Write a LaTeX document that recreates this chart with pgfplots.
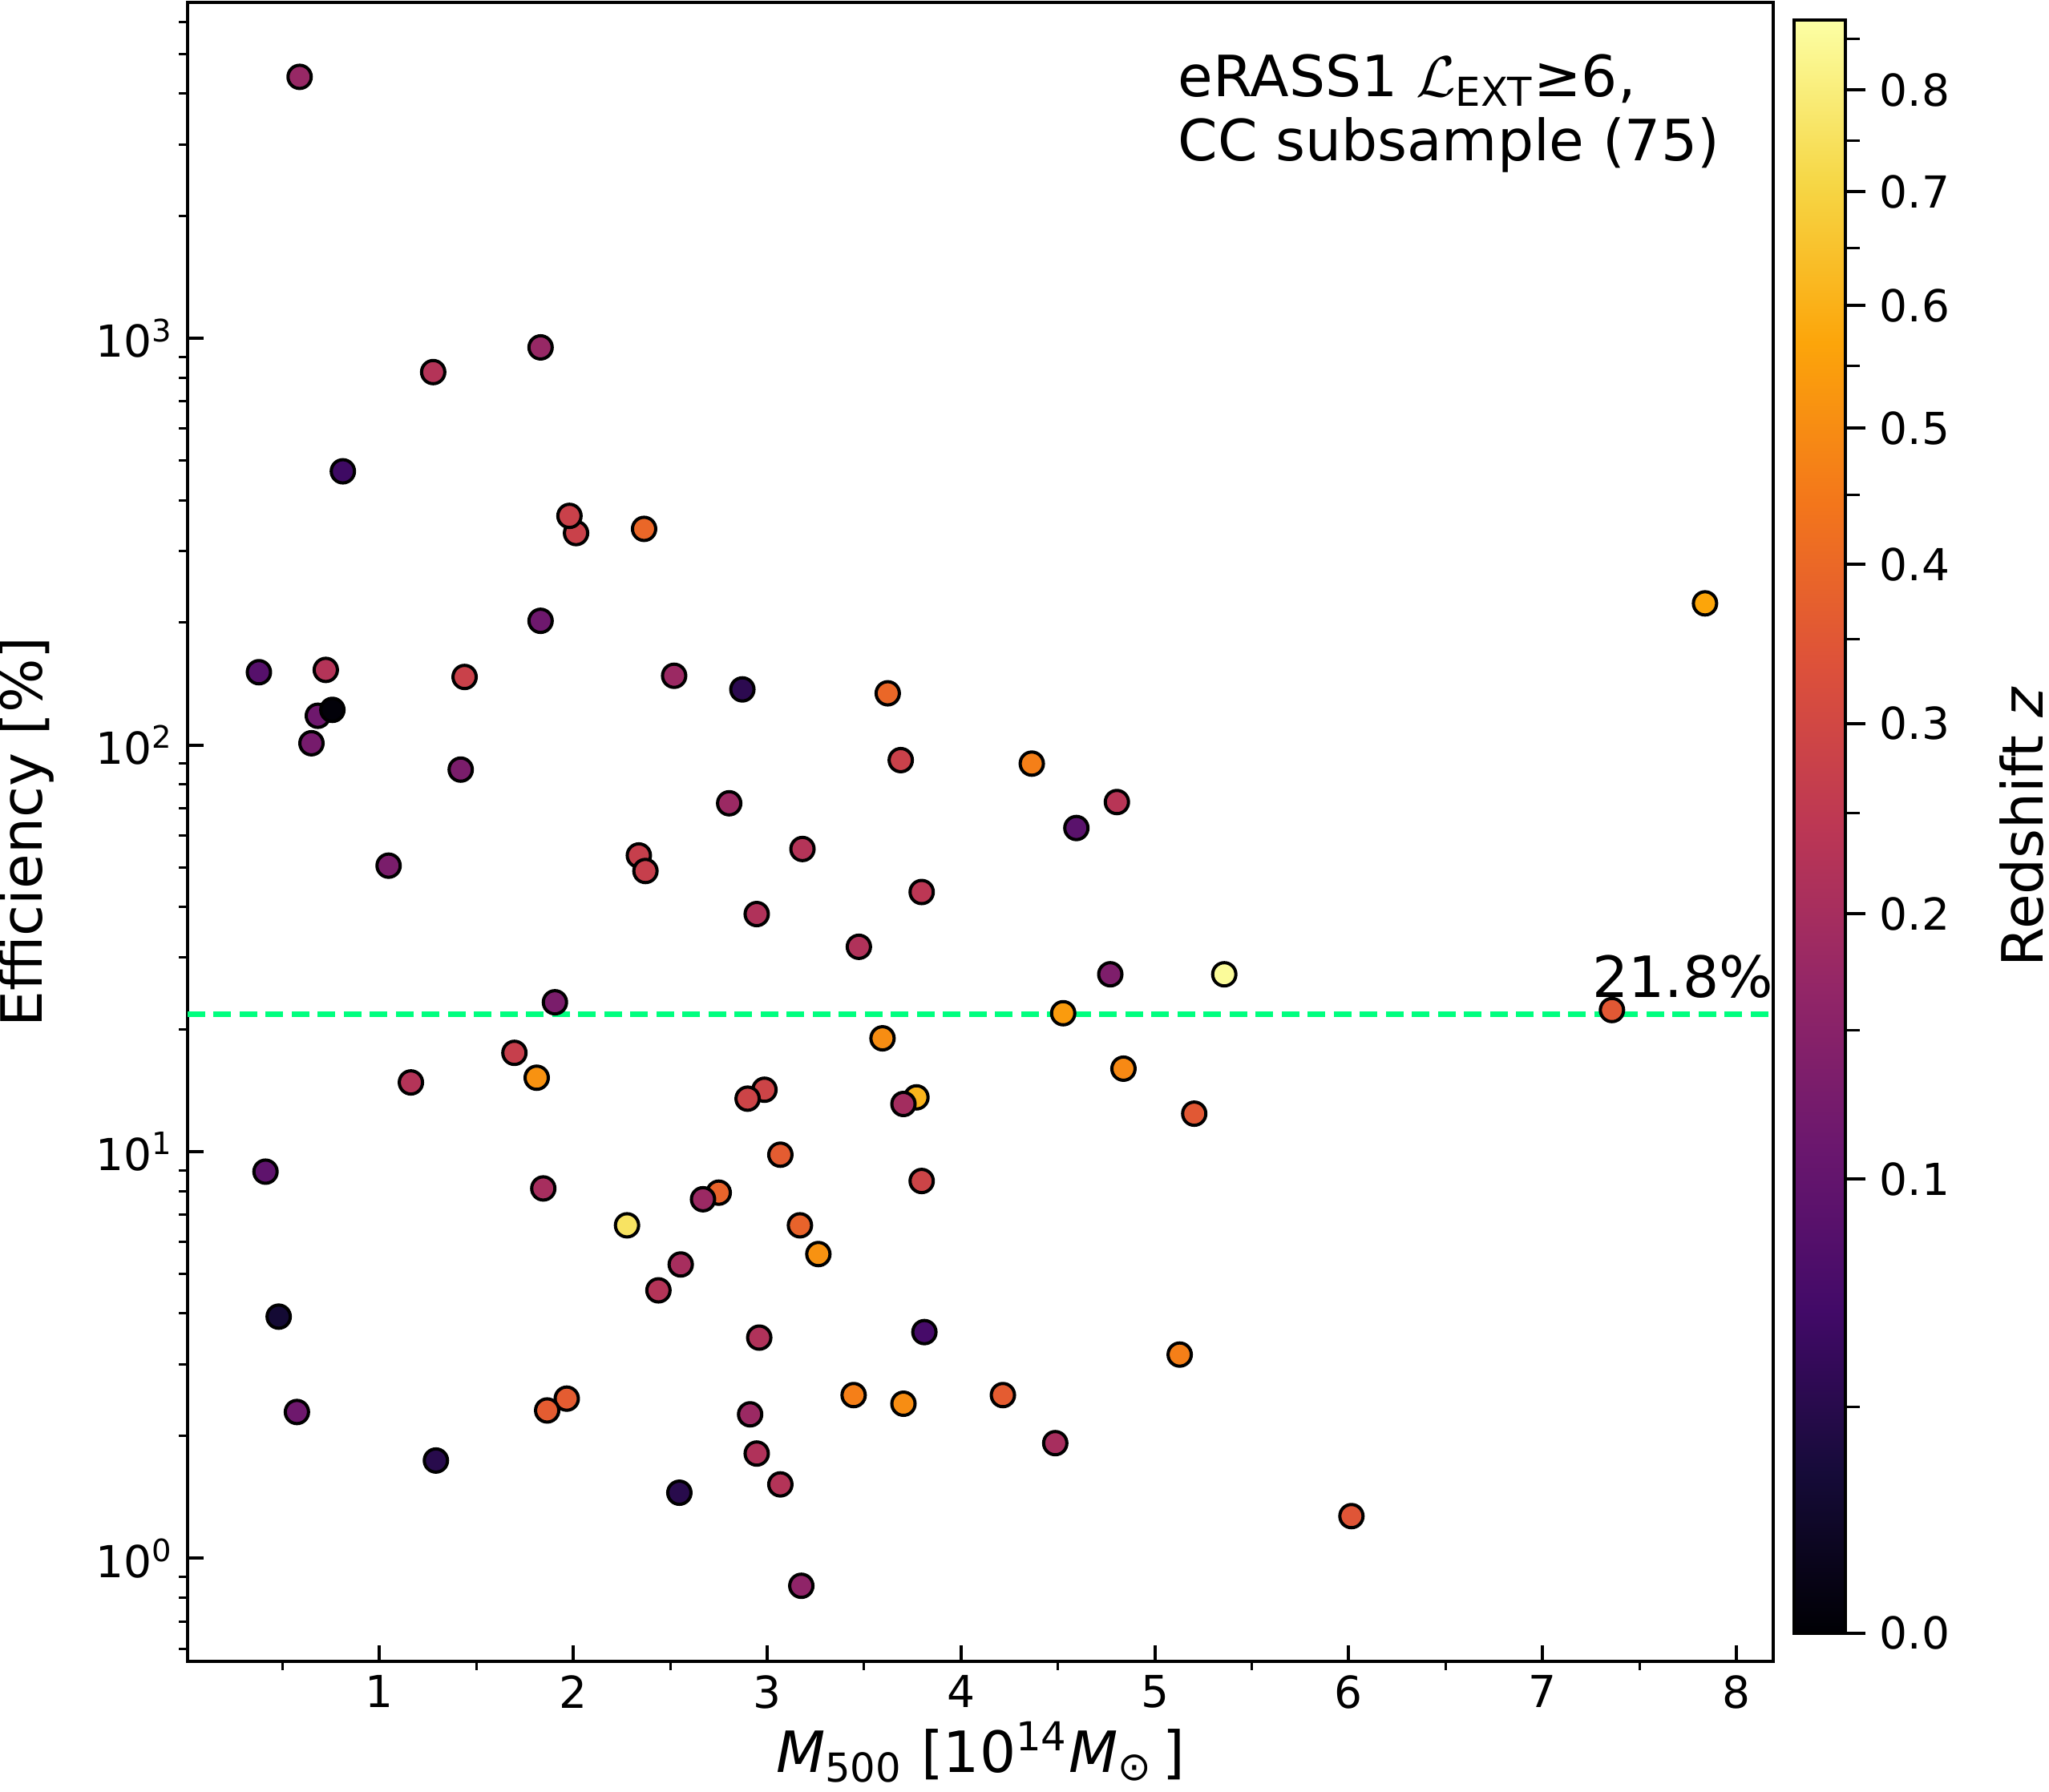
\documentclass[border=0pt]{standalone}
\usepackage{amsmath}
\usepackage{fontspec}
\setmainfont{DejaVu Sans}
\usepackage{pgfplots}
\usepackage{pgfplotstable}
\pgfplotsset{compat=1.18}

\definecolor{springgreen}{RGB}{0,255,127}
\pgfplotsset{colormap={inferno}{rgb255=(0,0,4) rgb255=(22,11,57) rgb255=(66,10,104)
  rgb255=(106,23,110) rgb255=(147,38,103) rgb255=(188,55,84) rgb255=(221,81,58)
  rgb255=(243,118,27) rgb255=(252,165,10) rgb255=(246,215,70) rgb255=(252,255,164)}}

% mass, efficiency, colour position on the (non-linear) redshift bar
\pgfplotstableread{
x y c
0.588 4395 0.41
1.831 950 0.41
1.277 826 0.48
0.811 471 0.19
2.014 332 0.54
1.980 366 0.54
2.365 340 0.66
7.838 223 0.80
1.831 202 0.31
0.378 151 0.25
0.723 153 0.48
1.439 147 0.54
2.520 148 0.42
2.872 137 0.15
3.622 134 0.66
0.682 118 0.31
0.757 122 0.01
0.649 101 0.33
1.419 87 0.34
3.689 91.8 0.54
4.365 90 0.72
4.804 72.4 0.49
2.804 71.9 0.42
4.595 62.5 0.26
1.047 50.5 0.34
2.338 53.5 0.53
2.372 49 0.53
3.182 55.5 0.48
3.797 43.5 0.50
2.946 38.4 0.47
3.473 31.9 0.47
4.770 27.3 0.35
5.358 27.3 0.99
1.905 23.3 0.34
4.527 21.9 0.78
7.358 22.3 0.62
3.595 19.0 0.75
1.696 17.5 0.53
1.811 15.2 0.76
4.838 16.0 0.74
1.162 14.8 0.48
2.986 14.2 0.55
2.899 13.5 0.55
3.770 13.6 0.83
3.703 13.1 0.44
5.203 12.4 0.62
0.412 8.93 0.27
3.068 9.83 0.63
1.845 8.12 0.45
3.797 8.47 0.55
2.750 7.93 0.65
2.669 7.64 0.42
2.277 6.59 0.93
3.169 6.59 0.65
3.264 5.60 0.76
2.554 5.28 0.45
2.439 4.56 0.48
0.480 3.93 0.09
3.811 3.60 0.21
2.959 3.49 0.47
5.128 3.17 0.72
0.574 2.29 0.31
1.966 2.47 0.63
1.865 2.31 0.63
2.912 2.26 0.42
3.446 2.52 0.72
3.703 2.40 0.75
4.216 2.52 0.63
4.486 1.92 0.45
1.291 1.74 0.14
2.946 1.81 0.47
3.068 1.52 0.48
2.547 1.45 0.14
6.014 1.27 0.61
3.176 0.856 0.39
}\clusters

\begin{document}
\begin{tikzpicture}
\begin{axis}[
    name=main,
    scale only axis,
    width=395.6pt, height=414pt,
    ymode=log,
    xmin=0.01, xmax=8.19,
    ymin=0.558, ymax=6700,
    axis line style={line width=0.8pt},
    tick pos=left,
    tick align=inside,
    major tick length=4pt,
    minor tick length=-2.2pt,
    tick style={line width=0.8pt, black},
    minor tick style={line width=0.6pt},
    xtick={1,2,3,4,5,6,7,8},
    xticklabels={1,2,3,4,5,6,7,8},
    minor xtick={0.5,1.5,2.5,3.5,4.5,5.5,6.5,7.5},
    ytick={1,10,100,1000},
    yticklabels={10\textsuperscript{0},10\textsuperscript{1},10\textsuperscript{2},10\textsuperscript{3}},
    minor ytick={0.6,0.7,0.8,0.9,2,3,4,5,6,7,8,9,20,30,40,50,60,70,80,90,200,300,400,500,600,700,800,900,2000,3000,4000,5000,6000},
    tick label style={font=\fontsize{11}{13}\selectfont},
    xlabel={\textit{M}\textsubscript{500} [10\textsuperscript{14}\textit{M}\textsubscript{⊙}\,]},
    ylabel={Efficiency [\%]},
    label style={font=\fontsize{14.2}{17}\selectfont},
    xlabel style={at={(axis description cs:0.5,0)}, anchor=base, yshift=-27.6pt},
    ylabel style={at={(axis description cs:-0.1016,0.5)}, anchor=center},
    colorbar,
    colormap name=inferno,
    point meta min=0, point meta max=1,
    colorbar style={
        at={(parent axis.north east)}, anchor=north west,
        xshift=-3.3pt, yshift=-4.4pt,
        scale only axis,
        width=12.8pt, height=402.6pt,
        axis line style={line width=0.8pt},
        ytick={0,0.2816,0.4461,0.5640,0.6626,0.7471,0.8229,0.8935,0.9567},
        yticklabels={0.0,0.1,0.2,0.3,0.4,0.5,0.6,0.7,0.8},
        minor ytick={0.1405,0.3736,0.5085,0.6160,0.7058,0.7857,0.8589,0.9254,0.9883},
        ytick pos=right, yticklabel pos=right,
        tick align=outside,
        major tick length=5pt, minor tick length=3.6pt,
        tick style={line width=0.8pt, black},
        minor tick style={line width=0.6pt},
        yticklabel style={font=\fontsize{11}{13}\selectfont},
        ylabel={Redshift \textit{z}},
        ylabel style={font=\fontsize{14.2}{17}\selectfont, inner sep=0pt,
            at={(axis description cs:4.44,0.5)}, anchor=center},
    },
]
\addplot[springgreen, line width=1.4pt, dash pattern=on 4.4pt off 2.1pt, forget plot]
    coordinates {(0.01,21.8) (8.19,21.8)};
\addplot[scatter, only marks, mark=*, mark size=2.9pt, point meta=explicit,
    scatter/use mapped color={draw=black, fill=mapped color, line width=0.8pt}]
    table[x=x, y=y, meta=c] {\clusters};
\node[anchor=base east, xshift=4pt, yshift=4.2pt, font=\fontsize{14.2}{17}\selectfont]
    at (axis cs:8.18,21.8) {21.8\%};
\node[anchor=base west, font=\fontsize{14.2}{17}\selectfont]
    at (rel axis cs:0.6158,0.9431) {eRASS1 $\mathcal{L}_{\text{EXT}}$≥6,};
\node[anchor=base west, font=\fontsize{14.2}{17}\selectfont]
    at (rel axis cs:0.6158,0.9045) {CC subsample (75)};
\end{axis}
\pgfresetboundingbox
\path[use as bounding box] ([xshift=-46.8pt,yshift=-32.4pt]main.south west)
    rectangle ([xshift=68.8pt,yshift=0.6pt]main.north east);
\end{tikzpicture}
\end{document}
